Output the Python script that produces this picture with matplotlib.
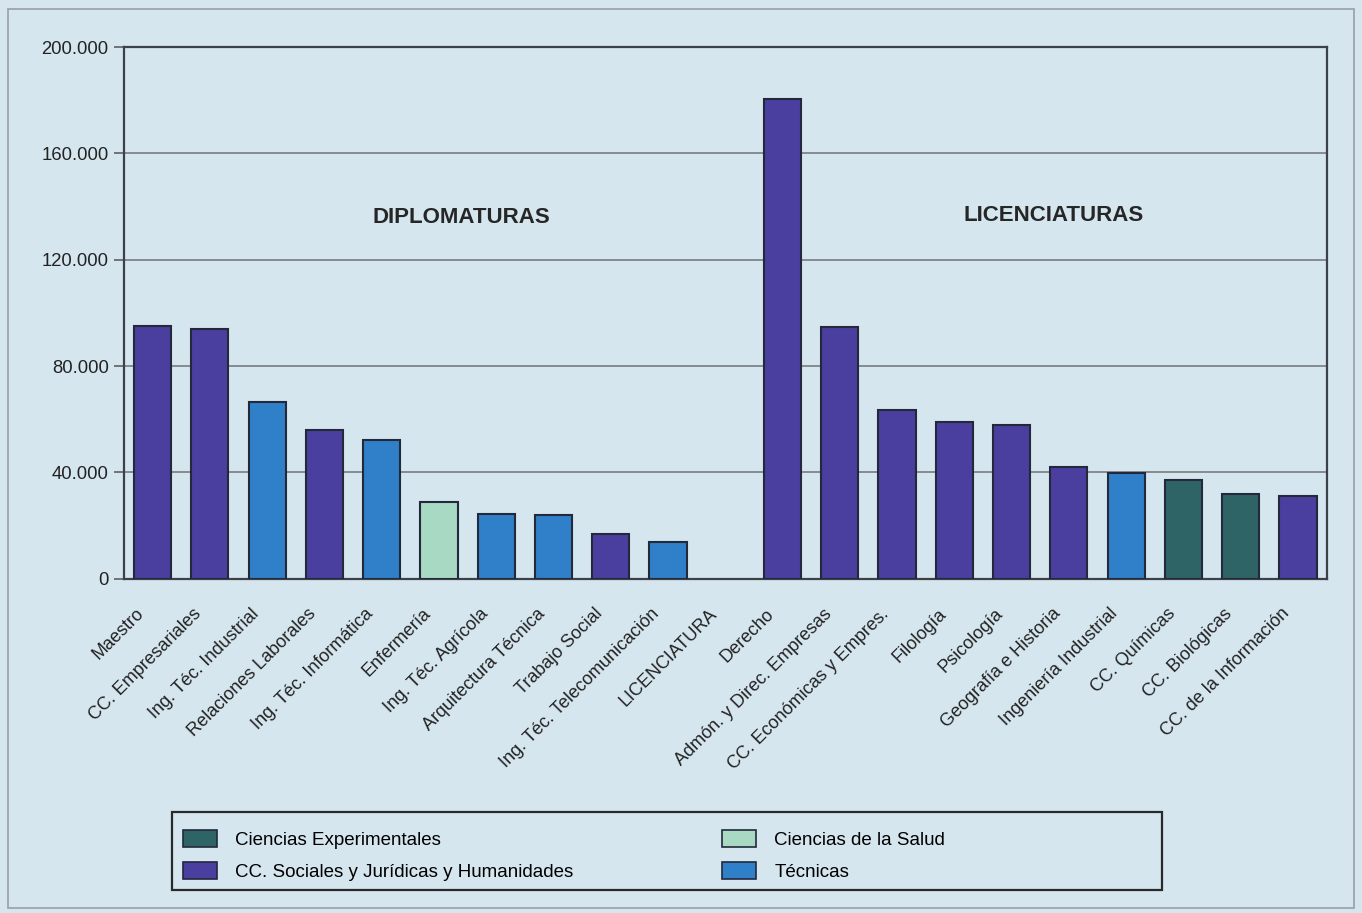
import matplotlib.pyplot as plt
import numpy as np
from matplotlib.patches import Patch, Rectangle
from matplotlib.transforms import ScaledTranslation

plt.rcParams["font.family"] = ["Liberation Sans", "DejaVu Sans"]

# Carreras (the empty "LICENCIATURA" slot separates both groups)
carreras = [
    "Maestro", "CC. Empresariales", "Ing. Téc. Industrial", "Relaciones Laborales",
    "Ing. Téc. Informática", "Enfermería", "Ing. Téc. Agrícola", "Arquitectura Técnica",
    "Trabajo Social", "Ing. Téc. Telecomunicación", "LICENCIATURA", "Derecho",
    "Admón. y Direc. Empresas", "CC. Económicas y Empres.", "Filología", "Psicología",
    "Geografía e Historia", "Ingeniería Industrial", "CC. Químicas", "CC. Biológicas",
    "CC. de la Información",
]
alumnos = [
    95000, 94000, 66500, 56000, 52300, 29000, 24400, 24100, 16900, 13900, 0,
    180500, 94700, 63500, 59000, 57900, 42100, 39800, 37200, 32000, 31200,
]
# area of each degree: exp, soc, sal, tec (None for the empty slot)
rama = [
    "soc", "soc", "tec", "soc", "tec", "sal", "tec", "tec", "soc", "tec", None,
    "soc", "soc", "soc", "soc", "soc", "soc", "tec", "exp", "exp", "soc",
]

rama_labels = {
    "exp": "Ciencias Experimentales",
    "soc": "CC. Sociales y Jurídicas y Humanidades",
    "sal": "Ciencias de la Salud",
    "tec": "Técnicas",
}
rama_colors = {"exp": "#2e6466", "soc": "#4a3f9f", "sal": "#a8d9c3", "tec": "#2f7fc9"}

bg = "#d5e6ef"
edge = "#23283a"

fig = plt.figure(figsize=(13.62, 9.13), dpi=100, facecolor=bg)
ax = fig.add_axes([0.091, 0.366, 0.883, 0.5825])
ax.set_facecolor(bg)

x = np.arange(len(carreras))
colors = [rama_colors[r] if r else bg for r in rama]
heights = [v if r else np.nan for v, r in zip(alumnos, rama)]
ax.bar(x, heights, width=0.65, color=colors, edgecolor=edge, linewidth=1.5, zorder=3)

ax.set_xlim(-0.5, len(carreras) - 0.5)
ax.set_ylim(0, 200000)
ax.set_yticks(np.arange(0, 200001, 40000))
ax.set_yticklabels(["0", "40.000", "80.000", "120.000", "160.000", "200.000"], fontsize=13.3, color="#222222")
ax.yaxis.grid(True, color="#6f7378", linewidth=1.1, zorder=0)
ax.tick_params(axis="y", length=7, width=1.1, color="#555555", pad=4)
ax.tick_params(axis="x", length=0, pad=19)
ax.set_xticks(x)
ax.set_xticklabels(carreras, rotation=45, ha="right", va="top", rotation_mode="anchor",
                   fontsize=13, color="#222222")
shift = ScaledTranslation(-17 / 100, 0, fig.dpi_scale_trans)
for lab in ax.get_xticklabels():
    lab.set_transform(lab.get_transform() + shift)

for side in ["left", "top", "right", "bottom"]:
    ax.spines[side].set_color("#3c4048")
    ax.spines[side].set_linewidth(1.6)

ax.text(5.4, 136000, "DIPLOMATURAS", ha="center", va="center", fontsize=16, fontweight="bold", color="#262626")
ax.text(15.73, 136500, "LICENCIATURAS", ha="center", va="center", fontsize=16, fontweight="bold", color="#262626")

handles = [Patch(facecolor=rama_colors[k], edgecolor=edge, linewidth=1.2, label=rama_labels[k])
           for k in ["exp", "soc", "sal", "tec"]]
leg = fig.legend(handles=handles, ncol=2, loc="upper left",
                 bbox_to_anchor=(183 / 1362, 1 - 830 / 913), fontsize=13.5,
                 frameon=False, handlelength=1.8, handleheight=1.0, columnspacing=7.9,
                 borderpad=0, labelspacing=0.7, handletextpad=1.0, borderaxespad=0)

# legend frame is wider than its entries
fig.patches.append(Rectangle((172 / 1362, 1 - 890 / 913), 990 / 1362, 78 / 913, transform=fig.transFigure,
                             fill=False, edgecolor="#2a2a2a", linewidth=1.6))
# thin outer border of the figure
fig.patches.append(Rectangle((8 / 1362, 0.005), 1 - 16 / 1362, 0.985, transform=fig.transFigure,
                             fill=False, edgecolor="#9aa0a6", linewidth=1.2))

fig.savefig("out.png", dpi=100, facecolor=bg)
